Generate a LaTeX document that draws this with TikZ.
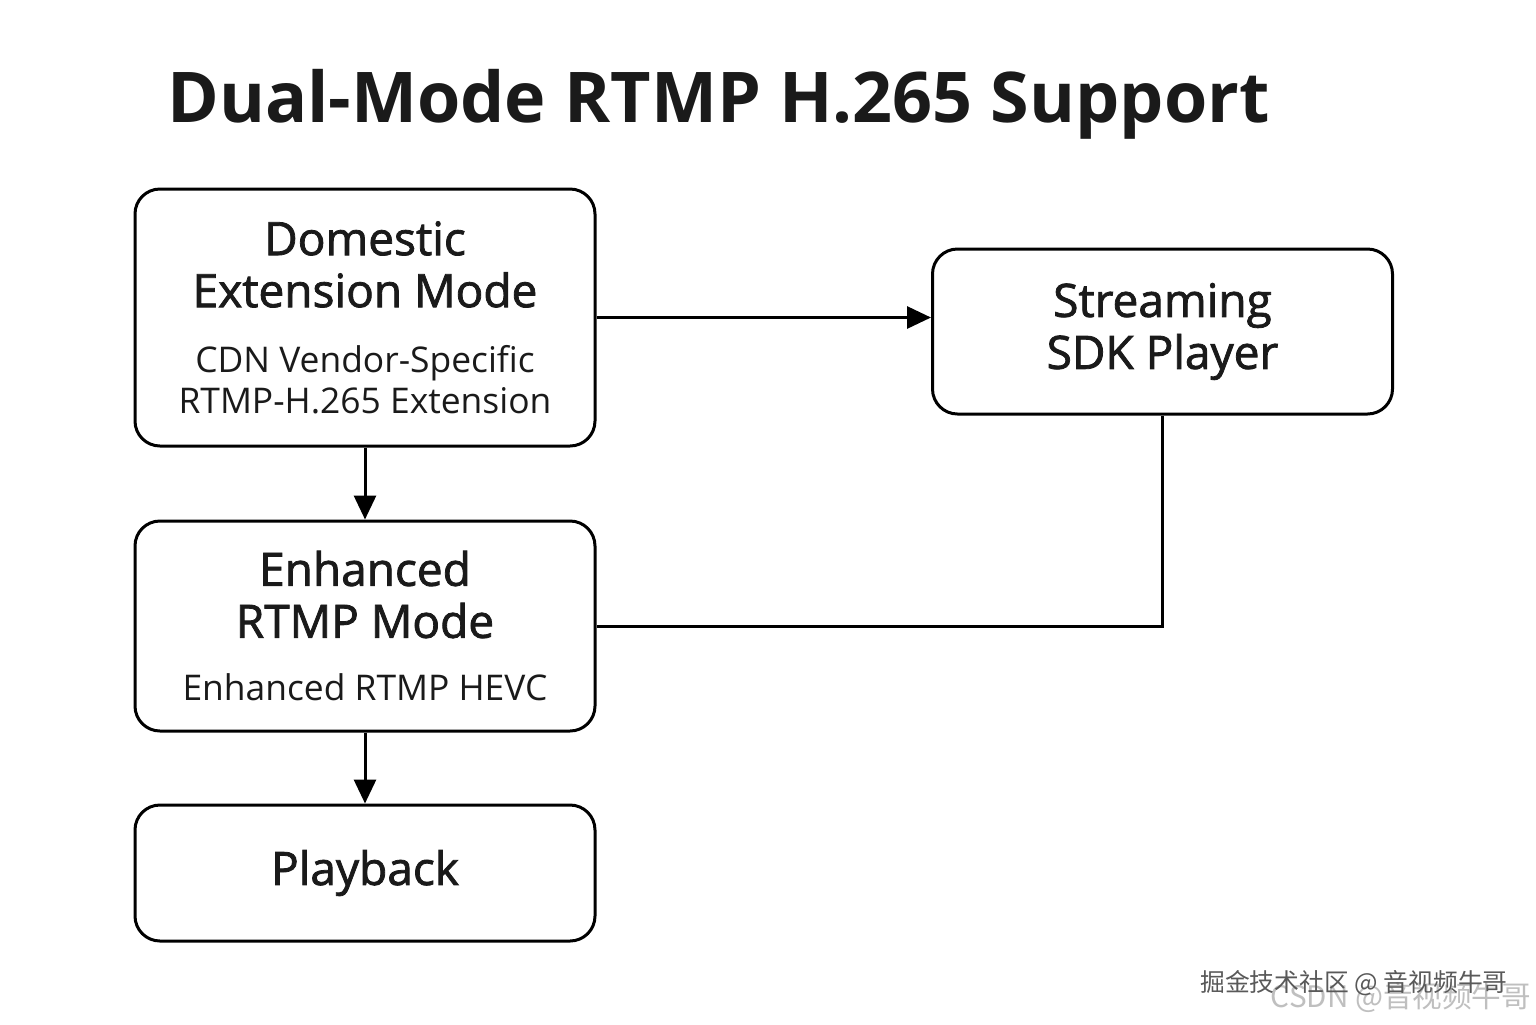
\documentclass[tikz,border=0pt]{standalone}
\usepackage{fontspec}
\setmainfont{Open Sans}
\newfontfamily\headfont{Open Sans}[UprightFeatures={FakeBold=1.7}]
\newfontfamily\cjk{Noto Sans CJK SC}
\usetikzlibrary{arrows.meta}
\definecolor{ink}{HTML}{1A1A1A}
\newcommand{\headtxt}{\headfont\fontsize{23}{26}\selectfont}
\newcommand{\subtxt}{\fontsize{17.7}{26}\selectfont}

\begin{document}
\begin{tikzpicture}[x=0.5pt, y=-0.5pt, >={Triangle[length=12pt,width=11pt]},
    box/.style={draw, line width=1.5pt, rounded corners=12.5pt, minimum width=230pt,
      align=center, text=ink, font=\fontsize{23}{26}\selectfont},
    link/.style={line width=1.5pt}]
      \useasboundingbox (0,0) rectangle (1536,1024);
      \fill[white] (0,0) rectangle (1536,1024);

      \draw (718.5,122) node[anchor=base, text=ink, font=\bfseries\fontsize{35}{40}\selectfont] (T)
        {Dual-Mode RTMP H.265 Support};

      \draw (365,317.5) node[box, minimum height=128.5pt] (D)
        {\headtxt Domestic\\\headtxt Extension Mode\\[6.5pt]\subtxt CDN Vendor-Specific\\[-5.5pt]\subtxt RTMP-H.265 Extension};
      \draw (1162.5,331.5) node[box, minimum height=82.5pt] (S)
        {\headtxt Streaming\\\headtxt SDK Player};
      \draw (365,626) node[box, minimum height=105pt] (E)
        {\headtxt Enhanced\\\headtxt RTMP Mode\\[5.5pt]\subtxt Enhanced RTMP HEVC};
      \draw (365,873) node[box, minimum height=68pt] (P)
        {\headtxt Playback};

      \draw[link, ->] (D.east) -- (D.east -| S.west);
      \draw[link, ->] (D.south) -- (E.north);
      \draw[link, ->] (E.south) -- (P.north);
      \draw[link] (S.south) |- (E.east);

      \draw (1401,997) node[text=black!25, font=\cjk\fontsize{14.8}{16}\selectfont] (W2)
        {CSDN @音视频牛哥};
      \draw (1354,983) node[text=black!65, font=\cjk\fontsize{12.4}{15}\selectfont] (W1)
        {掘金技术社区 @ 音视频牛哥};
    \end{tikzpicture}
\end{document}
